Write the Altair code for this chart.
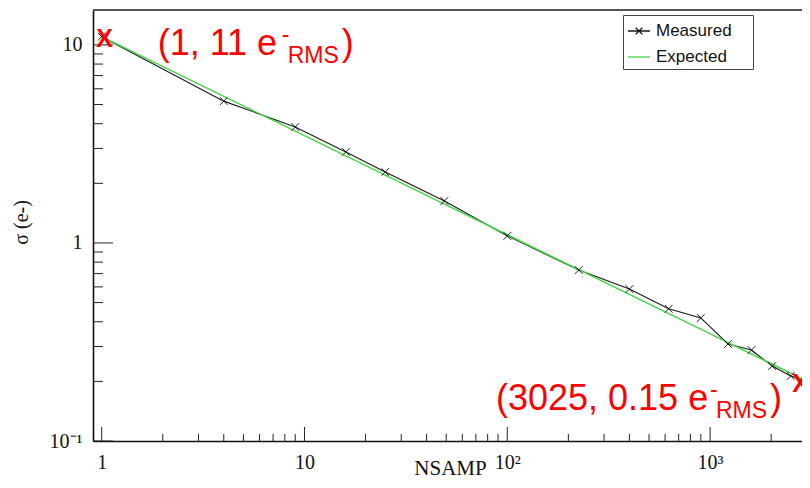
import altair as alt
import pandas as pd

# ---- data ----
N = [1, 4, 9, 16, 25, 49, 100, 225, 400, 625, 900, 1225, 1600, 2025, 2500, 3025]
measured = [11.0, 5.2, 3.85, 2.88, 2.28, 1.63, 1.085, 0.73, 0.585, 0.465, 0.418,
            0.309, 0.288, 0.239, 0.213, 0.2]
expected = [11.0, 5.5, 3.67, 2.75, 2.2, 1.57, 1.1, 0.733, 0.55, 0.44, 0.367,
            0.314, 0.275, 0.244, 0.22, 0.2]
series_names = ["Measured", "Expected"]

x_major = [1, 10, 100, 1000]
x_minor = [2, 3, 4, 5, 6, 7, 8, 9, 20, 30, 40, 50, 60, 70, 80, 90,
           200, 300, 400, 500, 600, 700, 800, 900, 2000, 3000]
y_major = [0.1, 1, 10]
y_minor = [0.2, 0.3, 0.4, 0.5, 0.6, 0.7, 0.8, 0.9, 2, 3, 4, 5, 6, 7, 8, 9]

ann_N = [1, 3025]
ann_sigma = [11, 0.2]
ann_main = ["(1, 11 e", "(3025, 0.15 e"]

# ---- styles ----
W, H = 717, 431
BLACK = "#1a1a1a"
GREEN = "#45d645"
RED = "#ff0000"
series_colors = [BLACK, GREEN]
legend_paths = ["M-1,0L1,0M-0.3,-0.3L0.3,0.3M-0.3,0.3L0.3,-0.3", "M-1,0L1,0"]
marker_path = "M-1,-1L1,1M-1,1L1,-1"
SERIF = "Liberation Serif"
SANS = "Liberation Sans"

df = pd.DataFrame({
    "N": N * 2,
    "sigma": measured + expected,
    "series": ["Measured"] * len(N) + ["Expected"] * len(N),
})

xs = alt.Scale(type="log", domain=[0.906, 3109], nice=False)
ys = alt.Scale(type="log", domain=[0.1, 15], nice=False)

x_axis = alt.Axis(
    values=x_major, ticks=False, tickSize=0, grid=False,
    labelExpr="datum.value == 1000 ? '10³' : datum.value == 100 ? '10²' : datum.value == 10 ? '10' : '1'",
    labelFont=SERIF, labelFontSize=20, labelColor="#111", labelPadding=11,
    labelFlush=False, labelOverlap=False,
    domainColor="#111", domainWidth=1.6,
    title="NSAMP", titleFont=SERIF, titleFontSize=21, titleFontWeight="normal",
    titleColor="#111", titleX=357, titleY=33, titleAlign="center",
    titleBaseline="alphabetic",
)
y_axis = alt.Axis(
    values=y_major, ticks=False, tickSize=0, grid=False,
    labelExpr="datum.value < 0.5 ? '10⁻¹' : datum.value < 5 ? '1' : '10'",
    labelFont=SERIF, labelFontSize=20, labelColor="#111", labelPadding=11,
    labelFlush=False, labelOverlap=False,
    domainColor="#111", domainWidth=1.6,
    title="σ (e-)", titleFont=SERIF, titleFontSize=20, titleFontWeight="normal",
    titleColor="#111", titleX=-72, titleY=212, titleAngle=270,
    titleAlign="center", titleBaseline="middle",
)

def xe(field):
    return alt.X(field, scale=xs, axis=x_axis)

def ye(field):
    return alt.Y(field, scale=ys, axis=y_axis)

layers = []

# tick marks drawn inside the frame
layers.append(alt.Chart(pd.DataFrame({"v": y_major})).mark_rule(color="#222", strokeWidth=1)
              .encode(y=ye("v:Q"), x=alt.value(0), x2=alt.value(20)))
layers.append(alt.Chart(pd.DataFrame({"v": y_minor})).mark_rule(color="#222", strokeWidth=1)
              .encode(y=ye("v:Q"), x=alt.value(0), x2=alt.value(10)))
layers.append(alt.Chart(pd.DataFrame({"v": x_major})).mark_rule(color="#222", strokeWidth=1)
              .encode(x=xe("v:Q"), y=alt.value(H), y2=alt.value(H - 14)))
layers.append(alt.Chart(pd.DataFrame({"v": x_minor})).mark_rule(color="#222", strokeWidth=1)
              .encode(x=xe("v:Q"), y=alt.value(H), y2=alt.value(H - 7)))
# top frame line
layers.append(alt.Chart(pd.DataFrame({"v": [0]})).mark_rule(color="#555", strokeWidth=2)
              .encode(x=alt.value(0), x2=alt.value(W), y=alt.value(0)))

# series lines
for name, color, width in zip(series_names, series_colors, [1.1, 1.5]):
    layers.append(
        alt.Chart(df).transform_filter(alt.datum.series == name)
        .mark_line(color=color, strokeWidth=width, clip=False)
        .encode(x=xe("N:Q"), y=ye("sigma:Q"), order="N:Q")
    )

# measured markers
layers.append(
    alt.Chart(df).transform_filter(alt.datum.series == "Measured")
    .mark_point(shape=marker_path, size=60, filled=False, color=BLACK, strokeWidth=1, opacity=1)
    .encode(x=xe("N:Q"), y=ye("sigma:Q"))
)

# legend-only layer (a trailing blank braille cell widens the box on the right)
legend = alt.Legend(
    title=None, orient="none", legendX=530, legendY=5, direction="vertical",
    padding=4, strokeColor="#444", fillColor="white",
    labelFont=SANS, labelFontSize=17, labelColor="#111", labelOffset=5,
    labelExpr="datum.label + '\u00a0\u2800'",
    rowPadding=6, symbolSize=484, symbolStrokeWidth=1.3,
)
layers.append(
    alt.Chart(df).transform_filter("false")
    .mark_point(filled=False, size=484, strokeWidth=1.3, opacity=1)
    .encode(
        x=xe("N:Q"), y=ye("sigma:Q"),
        color=alt.Color("series:N", scale=alt.Scale(domain=series_names, range=series_colors), legend=legend),
        shape=alt.Shape("series:N", scale=alt.Scale(domain=series_names, range=legend_paths), legend=legend),
    )
)

# annotations
ann_df = pd.DataFrame({"N": ann_N, "sigma": ann_sigma, "main": ann_main})
ann_offsets = [
    {"X": (3, 10), "main": (56, 18), "sup": (180, 5), "sub": (186, 26), "close": (240, 18)},
    {"X": (-7, 11), "main": (-311.6, 28.6), "sup": (-97.6, 15.6), "sub": (-91.6, 36.6), "close": (-37.6, 28.6)},
]
for i, off in enumerate(ann_offsets):
    one = ann_df.iloc[[i]]
    pieces = [
        ("X", "X", 25, "bold"),
        ("main", None, 36, "normal"),
        ("sup", "-", 23, "normal"),
        ("sub", "RMS", 23, "normal"),
        ("close", ")", 36, "normal"),
    ]
    for key, txt, size, weight in pieces:
        dx, dy = off[key]
        kw = dict(font=SANS, fontSize=size, fontWeight=weight, color=RED,
                  align="center" if key == "X" else "left",
                  baseline="alphabetic", dx=dx, dy=dy)
        if txt is None:
            layers.append(alt.Chart(one).mark_text(**kw)
                          .encode(x=xe("N:Q"), y=ye("sigma:Q"), text="main:N"))
        else:
            layers.append(alt.Chart(one).mark_text(text=txt, **kw)
                          .encode(x=xe("N:Q"), y=ye("sigma:Q")))

# the reference image is cropped at its right edge: the plot runs past the page
chart = alt.layer(*layers).properties(
    width=W, height=H,
    autosize=alt.AutoSizeParams(type="none"),
    padding={"left": 85, "top": 2, "right": -8, "bottom": 39},
    background="white",
).configure_view(stroke=None)

chart.save("out.html", embed_options={"renderer": "svg", "actions": False})
